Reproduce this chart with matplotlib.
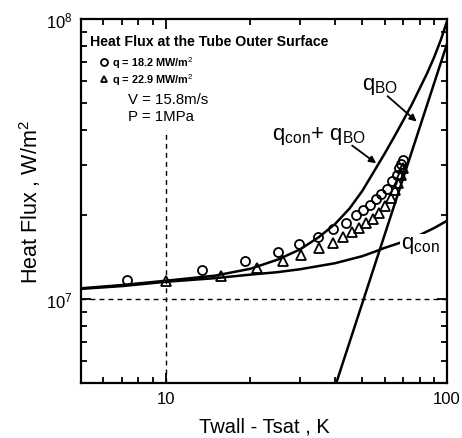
import matplotlib
matplotlib.use("Agg")
import matplotlib.pyplot as plt
from matplotlib.ticker import LogLocator, NullFormatter, FixedLocator, FixedFormatter

plt.rcParams['font.family'] = ['Liberation Sans', 'DejaVu Sans']
plt.rcParams['mathtext.fontset'] = 'custom'
plt.rcParams['mathtext.rm'] = 'Liberation Sans'
plt.rcParams['mathtext.it'] = 'Liberation Sans'

# ---- data (heat flux in MW/m2, x = Twall - Tsat in K) ----
x_con = [5, 7, 10, 15, 20, 25, 30, 40, 50, 56, 60, 70, 80, 90, 100]
q_con = [10.85, 11.1, 11.5, 11.85, 12.2, 12.45, 12.75, 13.4, 14.2, 14.8, 15.2, 16.0, 16.9, 17.9, 19.0]

x_bo = [40.4, 100]
q_bo = [5.0, 81.5]

x_sum = [5, 7, 10, 15, 20, 25, 30, 35, 40, 45, 50, 55, 60, 65, 70, 75, 80, 85, 90, 95, 100]
q_sum = [10.9, 11.2, 11.6, 12.1, 12.8, 13.8, 15.0, 16.6, 18.5, 21.0, 24.3, 28.5, 33.0,
         38.0, 43.5, 49.5, 56.5, 64.0, 73.0, 84.0, 98.0]

x_circ = [7.31, 13.46, 19.2, 25.0, 29.7, 34.8, 39.3, 43.8, 47.6, 50.4, 53.4, 56.1,
          58.5, 61.0, 63.6, 66.2, 67.3, 68.4, 69.5]
q_circ = [11.68, 12.68, 13.66, 14.7, 15.7, 16.6, 17.7, 18.6, 19.9, 20.7, 21.6, 22.7,
          23.6, 24.6, 26.3, 27.8, 29.3, 30.2, 31.3]

x_tri = [10.0, 15.7, 21.2, 26.2, 30.2, 35.1, 39.3, 42.7, 46.0, 48.8, 51.6, 54.7,
         57.5, 60.4, 63.0, 65.1, 66.7, 68.4, 69.5]
q_tri = [11.59, 12.08, 12.9, 13.65, 14.35, 15.2, 15.8, 16.6, 17.3, 17.9, 18.6, 19.3,
         20.2, 21.4, 22.9, 24.4, 25.9, 27.6, 29.3]

x_vline = 10
q_vline_top = 40.0
q_hline = 10.0

def W(v):
    return [a * 1e6 for a in v]

fig = plt.figure(figsize=(4.62, 4.39), dpi=100)
ax = fig.add_axes([0.1753, 0.1253, 0.7922, 0.8291])
ax.set_xscale('log')
ax.set_yscale('log')
ax.set_xlim(5, 100)
ax.set_ylim(5e6, 1e8)

lw = 1.8
ax.plot(x_con, W(q_con), color='black', lw=lw, solid_joinstyle='round')
ax.plot(x_bo, W(q_bo), color='black', lw=lw)
ax.plot(x_sum, W(q_sum), color='black', lw=lw, solid_joinstyle='round')

ax.plot(x_circ, W(q_circ), linestyle='none', marker='o', ms=6.5, mfc='none',
        mec='black', mew=1.3)
ax.plot(x_tri, W(q_tri), linestyle='none', marker='^', ms=6.5, mfc='none',
        mec='black', mew=1.3)

ax.plot([x_vline, x_vline], [5e6, q_vline_top * 1e6], color='black', lw=1.0,
        linestyle=(0, (3.5, 3)))
ax.plot([5, 100], [q_hline * 1e6, q_hline * 1e6], color='black', lw=1.0,
        linestyle=(0, (3.5, 3)))

# ticks
ax.xaxis.set_major_locator(FixedLocator([10, 100]))
ax.xaxis.set_major_formatter(FixedFormatter(['10', '100']))
ax.xaxis.set_minor_locator(LogLocator(base=10, subs=range(2, 10)))
ax.xaxis.set_minor_formatter(NullFormatter())
ax.yaxis.set_major_locator(FixedLocator([1e7, 1e8]))
ax.yaxis.set_major_formatter(FixedFormatter([r'$10^{7}$', r'$10^{8}$']))
ax.yaxis.set_minor_locator(LogLocator(base=10, subs=range(2, 10)))
ax.yaxis.set_minor_formatter(NullFormatter())
ax.tick_params(which='both', direction='in', top=True, right=True, width=1.3)
ax.tick_params(which='major', length=7, labelsize=12, pad=6)
ax.tick_params(which='minor', length=4)
for s in ax.spines.values():
    s.set_linewidth(1.6)

ax.set_xlabel('Twall - Tsat , K', fontsize=14.5, labelpad=7)
ax.set_ylabel(r'Heat Flux , W/m$^{2}$', fontsize=15.5, labelpad=2)

# annotations (axes-fraction positions)
ax.text(0.025, 0.94, 'Heat Flux at the Tube Outer Surface', transform=ax.transAxes,
        fontsize=10.2, fontweight='bold', va='center', ha='left')
ax.plot([0.062], [0.883], transform=ax.transAxes, marker='o', ms=5, mfc='none',
        mec='black', mew=1.3, clip_on=False)
ax.text(0.085, 0.883, r'q = 18.2 MW/m$^{2}$', transform=ax.transAxes,
        fontsize=7.8, fontweight='bold', va='center', ha='left')
ax.plot([0.062], [0.834], transform=ax.transAxes, marker='^', ms=5, mfc='none',
        mec='black', mew=1.3, clip_on=False)
ax.text(0.085, 0.834, r'q = 22.9 MW/m$^{2}$', transform=ax.transAxes,
        fontsize=7.8, fontweight='bold', va='center', ha='left')
ax.text(0.128, 0.78, 'V = 15.8m/s', transform=ax.transAxes, fontsize=10.8,
        va='center', ha='left')
ax.text(0.128, 0.733, 'P = 1MPa', transform=ax.transAxes, fontsize=10.8,
        va='center', ha='left')

arrow_kw = dict(arrowstyle='-|>', color='black', lw=1.3, mutation_scale=10,
                shrinkA=0, shrinkB=0)
ax.text(50, 58e6, r'q$_{\mathregular{BO}}$', fontsize=16, ha='left', va='center')
ax.annotate('', xy=(78.0, 43e6), xytext=(61.5, 53e6), arrowprops=arrow_kw)

ax.text(23.8, 38.5e6, r'q$_{\mathregular{con}}$+ q$_{\mathregular{BO}}$', fontsize=16,
        ha='left', va='center')
ax.annotate('', xy=(56.0, 30.5e6), xytext=(46.0, 35.3e6), arrowprops=arrow_kw)

ax.text(68.5, 15.6e6, r'q$_{\mathregular{con}}$', fontsize=16, ha='left', va='center',
        bbox=dict(facecolor='white', edgecolor='none', pad=0.3))

fig.savefig('out.png', dpi=100)
